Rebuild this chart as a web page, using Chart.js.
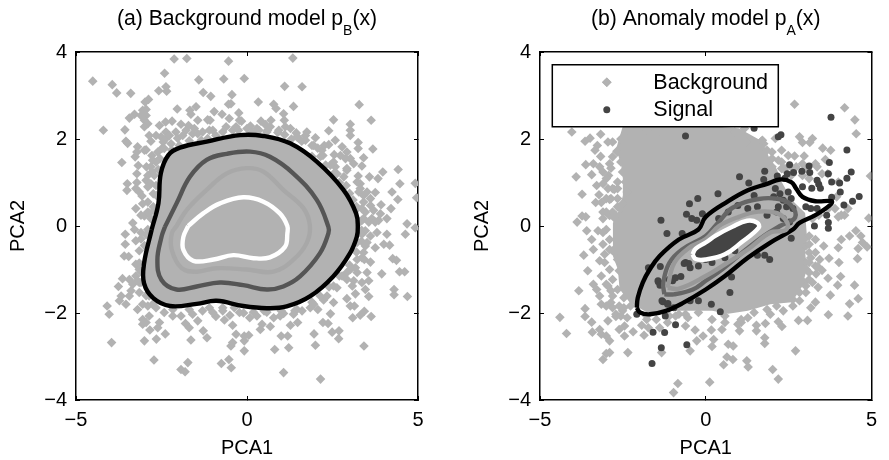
<!DOCTYPE html>
<html><head><meta charset="utf-8">
<style>html,body{margin:0;padding:0;background:#fff;width:889px;height:460px;overflow:hidden}canvas{position:absolute;top:0}</style>
<script src="https://cdn.jsdelivr.net/npm/chart.js@4"></script></head><body>
<canvas id="a" width="445" height="460" style="left:0"></canvas>
<canvas id="b" width="425" height="460" style="left:464px"></canvas>
<script>
const xTicks=[-5,0,5], yTicks=[-4,-2,0,2,4];
const titleA=["(a) Background model p","B","(x)"], titleB=["(b) Anomaly model p","A","(x)"];
const legendLabels=["Background","Signal"];
const xLabel="PCA1", yLabel="PCA2";

const leftBackground=[[-4.51,3.33],[-3.94,3.25],[-3.81,3.06],[-3.4,3.05],[-2.41,3.51],[-2.13,3.84],[-1.76,3.85],[-.54,3.79],[-1.41,3.36],[-.68,3.38],[-.08,3.39],[-2.58,3.11],[-2.37,3.2],[-2.35,3.1],[-1.28,3.07],[-1.06,2.98],[-.44,3.02],[-2.98,2.85],[-2.88,2.91],[-2.04,2.69],[-1.49,2.74],[-1.67,2.66],[-1.64,2.57],[-.96,2.63],[-.73,2.57],[-.54,2.8],[-.47,2.81],[-.24,2.6],[-3.29,2.57],[-3.44,2.48],[-3.05,2.66],[-2.95,2.68],[-3.1,2.54],[-2.95,2.54],[-3,2.43],[-2.9,2.35],[-3,2.28],[-4.2,2.2],[-3.57,2.21],[-2.38,2.39],[-2.19,2.41],[-1.93,2.34],[-1.44,2.43],[-1.71,2.31],[-1.15,2.44],[-1.08,2.43],[-.52,2.47],[-.22,2.43],[-.16,2.41],[-2.86,2.08],[-2.81,1.95],[-3.54,1.95],[-3.49,1.9],[-3.2,1.82],[-3,1.74],[-2.95,1.75],[-3.66,1.46],[-3.27,1.59],[-3.22,1.7],[-2.78,1.62],[-2.76,1.51],[-3.18,1.39],[-2.94,1.36],[-3.22,1.2],[-2.95,1.05],[-3.5,.97],[-3.22,1],[-3.25,.86],[-3.51,.82],[-3.07,.69],[-2.9,.55],[-2.74,.74],[-2.74,.44],[-3.1,.25],[-3,.23],[-3.34,.07],[-2.51,2.05],[-2.37,2.16],[-2.45,1.93],[-2.49,1.78],[-2.61,1.7],[-2.08,2.16],[-2.03,2.02],[-1.78,2.2],[-1.54,2.24],[-1.3,2.16],[-1,2.2],[-.71,2.16],[-.42,2.2],[-1.59,2.12],[-1.98,1.85],[-1.69,1.96],[-1.34,1.97],[-1.15,2.01],[-.91,2.08],[-2.37,2.01],[-2.22,1.89],[-2.66,1.47],[-2.71,1.16],[-2.81,.97],[-2.66,.93],[-2.81,1.36],
[-2.2,1.75],[-2.55,1.55],[-2.6,1.3],[-2.65,.7],[-2.85,.3],[-2.7,.1],[-3.1,-.3],[-.25,2.2],[.1,2.3],[.35,2.2],[.6,2.2],[.9,2.15],[1.1,2.1],[.15,2.15],[1.9,1.6],[2.3,1.4],[2.7,1],[3,.75],[3.2,.45],[3.3,.1],[3.35,-.1],[3.35,-.35],[3.2,-.6],[3,-.9],[2.7,-1.15],[2.4,-1.4],[1.9,-1.75],[1.4,-1.95],[1,-1.95],[.5,-1.95],[-.1,-2],[-.5,-2.05],[-2.95,-1.6],[-3.15,-1.3],[-3.15,-.85],[-3,-.45],[-2.95,-.2],[-2.7,.35],
[-2.78,1.24],[-2.9,1.16],[-3.15,.78],[-2.9,.9],[-3.05,.51],[-2.9,.32],[-2.81,.17],[-3.25,.4],[-2.56,2.31],[-2.66,2.08],[-2.42,1.78],[-2.27,2.08],[-1.88,2.08],[-1.44,2.12],[-1.1,2.2],[-.61,2.28],[-.32,2.28],[0,2.24],[.29,2.24],[.58,2.16],[.93,2.2],[1.27,2.24],[1.46,2.05],[1.71,1.97],[1.9,1.85],[2.19,1.74],[2.53,1.47],[2.73,1.62],[3.02,1.55],[2.92,1.32],[3.31,.97],[3.41,.7],[3.22,.4],[3.61,.63],[3.36,.13],[3.85,.13],[3.56,.09],[-3.15,-1],[-2.9,-1.07],[-3.25,-1.15],[-3.1,-1.3],[-2.86,-1.61],[-2.76,-1.8],[-2.17,-1.92],[-1.69,-1.92],[-1.1,-1.88],[-.71,-1.88],[-.37,-1.88],[-3.44,-1.23],[3.22,-.38],[3.31,-.15],[3.46,-.46],[3.22,-.77],[3.02,-1],[2.92,-1.23],[2.63,-1.42],[2.34,-1.61],[1.95,-1.8],[1.46,-1.92],[1.07,-2.01],[.58,-1.98],[.19,-1.98],[3.46,-.11],[3.36,-.73],[3.12,-1.26],
[1.34,3.86],[1.1,3.21],[1.61,3.2],[.33,2.85],[.78,2.8],[.85,2.7],[1.36,2.75],[3.28,2.79],[1.07,2.58],[1.09,2.43],[1.12,2.28],[.41,2.41],[.54,2.33],[.7,2.43],[.68,2.28],[2.53,2.44],[3.63,2.43],[3.02,2.34],[3.02,2.2],[3.02,2.08],[2.39,2.19],[1.75,2.16],[1.71,2.08],[1.44,2.14],[1.51,2.02],[2,2.03],[2.58,1.97],[2.39,1.87],[2.26,1.85],[2.07,1.79],[2.78,1.82],[3.25,1.92],[3.25,1.78],[3.68,1.77],[2.22,1.62],[2.55,1.64],[2.92,1.7],[2.88,1.55],[3.41,1.57],[3.12,1.43],[3.36,1.38],[4.42,1.3],[3.97,1.24],[2.92,1.28],[2.58,1.36],[2.83,1.13],[3.25,1.15],[3.22,1.01],[3.58,1.13],[3.83,1.09],[4.47,.97],[4.92,.98],[4.96,.65],[3.27,.78],[3.31,.86],[3.51,.78],[3.75,.77],[4.24,.78],[4.41,.61],[3.92,.49],[4.21,.4],[3.41,.55],[3.61,.47],[3.46,.32],[3.7,.36],[3.9,.28],[3.41,.17],[3.65,.17],[4.09,.17],[3.75,.09],[4.68,.05],[3.36,.4],[2.44,1.4],[2.63,1.2],[2.9,.93],[3.1,.6],[2.53,1.2],[2.15,1.6],[1.95,1.85],[1.6,1.95],[1.3,2],
[-3.56,-.19],[-3.56,-.42],[-3.59,-.69],[-3.46,-.7],[-3.29,-.08],[-3.1,-.15],[-3.25,-.34],[-3.15,-.57],[-3.25,-.88],[-2.9,-.08],[-3.64,-1.21],[-3.76,-1.39],[-3.34,-1.34],[-3.2,-1.26],[-3.39,-1.49],[-3.15,-1.53],[-3.68,-1.61],[-3.73,-1.72],[-3.54,-1.8],[-3.44,-1.61],[-4.09,-1.84],[-4.03,-2.03],[-3.96,-2.68],[-3.05,-1.8],[-3.2,-1.92],[-2.9,-1.84],[-2.66,-1.88],[-2.42,-1.99],[-2.17,-2.07],[-1.93,-2.07],[-1.59,-2.03],[-1.3,-1.95],[-2.86,-2.07],[-3.05,-2.15],[-2.95,-2.22],[-3.05,-2.26],[-2.56,-2.22],[-2.61,-2.34],[-2.84,-2.39],[-2.39,-2.48],[-3,-2.64],[-2.65,-2.6],[-1.64,-2.62],[-1.17,-2.57],[-1.28,-2.41],[-1.69,-2.34],[-1.8,-2.24],[-1.44,-2.18],[-.91,-2.08],[-.66,-2.16],[-.42,-2.28],[-.32,-2.49],[-.08,-2.53],[-.42,-2.68],[-.47,-2.76],[-.08,-2.64],[-.08,-2.87],[-2.72,-3.08],[-1.73,-3.14],[-1.93,-3.3],[-1.81,-3.35],[-.75,-3.16],[-.53,-3.07],[-.46,-3.26],[-.22,-1.99],[-.71,-1.95],[-1,-1.99],[-2.9,-.84],[-2.8,-.5],[-2.85,-1.15],[-3.1,-1.05],
[1.07,-3.37],[2.15,-3.52],[3.42,-2.76],[2,-2.74],[.81,-2.84],[1.22,-2.8],[1,-2.53],[1.19,-2.53],[1.96,-2.48],[2.49,-2.44],[2.69,-2.41],[2.68,-2.59],[.05,-2.51],[.68,-2.31],[.39,-2.38],[.44,-2.26],[1.27,-2.28],[1.48,-2.22],[2.22,-2.22],[2.37,-2.24],[2.44,-2.02],[3.09,-2.11],[3.31,-2.05],[3.43,-1.96],[3.63,-2.08],[2.92,-1.67],[3.02,-1.84],[3.14,-1.84],[2.53,-1.76],[2.24,-1.7],[2.07,-1.92],[1.85,-1.88],[1.61,-1.95],[1.36,-2.03],[.97,-2.07],[.78,-2.11],[.29,-2.07],[.08,-2.11],[3.17,-1.56],[3.08,-1.38],[3.36,-1.3],[3.56,-1.62],[3.46,-1.46],[3.56,-1.26],[3.51,-1.07],[3.17,-.96],[3.22,-1.07],[3.94,-1.1],[4.46,-1.05],[4.61,-1.05],[4.3,-1.46],[4.3,-1.58],[4.69,-1.62],[4.26,-.75],[4.37,-.79],[3.61,-.83],[3.43,-.77],[3.41,-.61],[3.75,-.5],[4,-.42],[4.17,-.44],[4.63,-.19],[4.92,-.04],[4.09,-.19],[3.8,-.15],[3.51,-.38],[3.61,-.23],[3.36,-.19],[2.92,-1.07],[2.78,-1.15],[2.53,-1.38],[2.14,-1.61]];

const leftBlack=[[-2.79,-.09],[-2.59,.52],[-2.52,1.21],[-2.3,1.63],[-1.96,1.8],[-1.18,1.94],[-.2,2.09],[.48,2.07],[1.26,1.9],[2.04,1.48],[2.82,.83],[3.19,.29],[3.24,-.02],[3.21,-.25],[3.01,-.63],[2.52,-1.16],[1.84,-1.62],[1.16,-1.85],[.58,-1.89],[-.11,-1.84],[-.89,-1.72],[-1.47,-1.79],[-2.25,-1.84],[-2.74,-1.66],[-3.01,-1.32],[-3.01,-.86],[-2.79,-.09]];
const leftDark=[[-2.4,-.02],[-2.06,.52],[-1.67,1.13],[-1.18,1.52],[-.59,1.66],[.09,1.71],[.67,1.59],[1.35,1.21],[2.04,.6],[2.38,-.02],[2.38,-.17],[2.13,-.63],[1.55,-1.16],[1.06,-1.39],[.58,-1.46],[-.11,-1.36],[-.79,-1.3],[-1.47,-1.39],[-2.06,-1.46],[-2.5,-1.24],[-2.62,-.78],[-2.5,-.25],[-2.4,-.02]];
const leftLight=[[-2.06,0],[-1.76,.37],[-1.18,.83],[-.59,1.21],[0,1.33],[.48,1.25],[1.06,.83],[1.65,.41],[1.84,0],[1.74,-.4],[1.35,-.78],[.77,-1.05],[-.01,-1],[-.89,-.97],[-1.47,-1.05],[-1.91,-.97],[-2.2,-.55],[-2.2,-.17],[-2.06,0]];
const leftWhite=[[-1.72,0],[-1.28,.29],[-.79,.52],[-.11,.66],[.48,.56],[.96,.29],[1.18,0],[1.18,-.17],[1.11,-.48],[.67,-.72],[.19,-.74],[-.4,-.67],[-.98,-.77],[-1.57,-.8],[-1.86,-.55],[-1.86,-.25],[-1.72,0]];

const rightBackground=[[-4.04,2.16],[-3.64,1.95],[-3.49,2.02],[-3.17,2.11],[-2.95,1.93],[-3.27,1.85],[-3.34,1.74],[-2.68,1.72],[-3.17,1.6],[-3.62,1.41],[-3.39,1.43],[-3.2,1.36],[-3.1,1.24],[-2.86,1.33],[-3.44,1.18],[-2.93,1.16],[-3.91,1.13],[-3.29,.93],[-3.1,.97],[-3,1.09],[-2.76,.84],[-3.73,.73],[-3.22,.72],[-3.32,.54],[-3.15,.54],[-2.9,.61],[-2.66,.44],[-2.56,.4],[-3.73,.23],[-3.62,.21],[-3.88,.09],[-3,.32],[-3.1,.17],[-2.76,.19],[-3.59,-.11],[-3,-.08],[-3.25,-.11],[-3.44,-.31],[-3.1,-.42],[-3.39,-.54],[-3.05,-.65],[-3.68,-.67],[-3.2,-.8],[-3.56,-1.03],[-3.83,-1.49],[-3.39,-1.34],[-3.29,-1.46],[-2.95,-1.38],[-3.2,-1.61],[-3,-1.84],[-2.81,-1.61],[-3.64,-1.9],[-3.64,-2.08],[-3.44,-2.21],[-4.4,-2.1],[-4.2,-2.47],[-3.42,-2.44],[-3.2,-2.38],[-3.15,-2.49],[-3,-2.53],[-2.9,-2.64],[-2.95,-2.18],[-2.71,-2.08],[-2.37,-2.11],[-2.61,-2.38],[-2.45,-2.3],[-2.45,-2.53],[-2.19,-2.43],[-1.86,-2.51],[-1.93,-2.28],[-1.78,-2.15],[-1.73,-2.34],[-1.39,-2.34],[-1.15,-2.22],[-.91,-2.07],[-.54,-2.11],[-.61,-2.3],[-.32,-2.39],[-.08,-2.53],[-.81,-2.03],[-.27,-2.64],[-.47,-2.87],[-2.9,-2.91],[-3,-2.93],[-3.1,-3.07],[-2.35,-2.91],[-1.33,-2.91],[-.84,-3.62],[-.97,-3.83],[-2.86,-1.76],[-2.61,-1.84],[-2.51,-1.95],[-2.71,-2.03],
[-2.37,2.2],[-2.12,2.16],[-1.78,2.2],[-1.39,2.18],[-1.05,2.16],[-.71,2.2],[-.22,2.16],[.19,2.16],[.49,2.16],[.88,2.16],[1.17,2.24],[1.22,1.93],[1.68,1.95],[1.85,1.74],[2,1.55],[-2.66,1.7],[-2.51,1.24],[-2.42,1.01],[-2.37,.78],[-2.66,.86],[-2.51,.51],[-2.71,.24],[-2.9,.24],[-2.9,-.31],[-2.81,-.57],[-2.66,-.77],[-2.61,-1.03],[-2.81,-1.23],[-2.66,-1.46],[-2.47,-1.65],[-2.27,-1.84],[-2.47,-1.88],[.19,-2.15],[.58,-2.22],[1.07,-2.22],[1.46,-1.99],[1.85,-1.92],[2.14,-1.84],[2.63,-1.84],[2.83,-1.72],[3.02,-1.53],[2.97,-1.3],[3.12,-1.07],[3.02,-.84],[3.12,-.61],[2.92,-.46],[2.34,1.32],[2.73,1.36],[3.02,1.32],[3.51,1.2],[3.36,1.36],[3.9,.4],[4.09,.25],[3.41,.25],[3.22,.17],[-1.78,-2.07],[-1.49,-2.15],[-1.1,-2.07],[-.61,-2.03],[-.22,-1.99],
[-2.81,1.93],[-2.56,2],[-2.81,1.59],[-2.56,1.47],[-2.9,1.43],[-2.66,1.01],[-2.81,.86],[-2.95,.86],[-2.86,.63],[-2.66,.63],[-3,.63],[-2.81,.32],[-3.1,.32],[-3.1,-.15],[-2.9,-.54],[-3.05,-.84],[-2.9,-1],[-3.15,-1.15],[-3,-1.34],[-2.86,-1.49],[-3.15,-1.8],[-2.81,-1.88],[-2.56,-2.07],[3.12,-.23],[3.31,-.61],[3.12,-.84],[3.31,-.92],[3.12,-1.23],[3.02,-1.38],[2.83,-1.53],[2.63,-1.69],[3.02,-.46],[3.17,-.73],[2.34,-1.95],[1.95,-2.03],[1.27,-2.11],[.58,-2.07],[2.92,-.23],[1.75,1.89],[2,1.7],[2.19,1.51],[2.39,1.32],[2.58,1.16],[2.29,1.47],[2,1.36],[2.1,2.01],[2.92,1.16],[3.12,1.09],
[.12,-3.59],[2.19,-3.52],[2.02,-3.3],[2.71,-2.87],[1.24,-3.1],[1.28,-3.24],[.64,-3.01],[.82,-3.07],[.54,-3.19],[.68,-2.72],[.83,-2.76],[.19,-2.77],[.24,-2.61],[1.78,-2.57],[1.78,-2.7],[1.53,-2.28],[1.53,-2.41],[1.8,-2.24],[2.19,-2.2],[2.3,-2.31],[2.8,-2.17],[3.07,-2.17],[3.7,-2.04],[4.29,-2.07],[4.34,-1.79],[4.6,-1.67],[4.49,-1.36],[3.76,-1.59],[3.31,-1.75],[3.17,-1.88],[3.39,-1.41],[3.22,-1.3],[3.98,-1.36],[3.69,-1.2],[4.07,-1.16],[3.33,-1.1],[3.51,-1.02],[3.04,-1],[3.38,-.93],[3.44,-.77],[3.72,-.74],[4.02,-.84],[4.58,-.75],[3.56,-.46],[4,-.5],[4.09,-.31],[4.34,-.23],[4.6,-.52],[4.87,-.48],[4.68,-.23],[4.53,-.11],[4.73,-.38],[3.12,-.42],[3.31,-.31],[2.97,-.31],[.97,-2.26],[1.07,-2.15],[1.02,-2.41],[.17,-2.39],[.49,-2.38],
[2.68,2.8],[4.19,2.72],[4.5,2.44],[4.54,2.12],[2.83,2.05],[2.92,1.92],[3.22,2.01],[3.14,1.92],[3.53,1.79],[3.77,1.74],[2.29,1.74],[1.71,1.97],[2.49,1.62],[2.68,1.61],[2.97,1.61],[3.61,1.53],[3.31,1.43],[2.92,1.43],[2.29,1.32],[3.68,1.2],[4.97,1.15],[2.63,1.32],[3.95,.67],[4.29,.4],[4.19,.25],[4,.21],[3.7,.4],[4.92,.18],[4,1.01]];
const rightDense=[[-2.5,2.3],[-1,2.3],[0,2.3],[1,2.25],[1.7,1.95],[1.9,1.6],[2.15,1.3],[2.3,1],[2.6,.6],[3,.3],[3.05,-.2],[3,-.6],[3.05,-1],[2.9,-1.4],[2.6,-1.75],[1.95,-1.8],[1.27,-1.95],[.68,-2.02],[.19,-1.95],[-.91,-1.95],[-1.78,-1.98],[-2.3,-1.75],[-2.6,-1.45],[-2.65,-1],[-2.8,-.69],[-2.8,-.15],[-2.8,.07],[-2.6,.4],[-2.5,.7],[-2.5,1.09],[-2.55,1.39],[-2.7,1.78],[-2.5,2.3]];
const rightSignal=[[3.78,2.5],[4.26,1.75],[4.39,1.24],[4.26,1.1],[3.73,1.46],[3.7,1.2],[3.8,1.01],[4.04,.99],[4.06,.78],[4.63,.68],[4.43,.57],[4.17,.48],[3.8,.66],[2.19,2.05],[2.27,2.1],[1.46,2.25],[2.53,1.41],[1.02,1.13],[1.78,1.26],[1.3,.99],[.37,.74],[2.65,1.23],[2.46,1.2],[2.9,1.26],[3.12,1.38],[3.14,1.23],[1.75,1.07],[2.16,1.15],[2.39,1.1],[3.36,1.05],[3.41,.96],[3.46,.87],[3.2,.87],[2.92,.9],[2.1,.86],[1.46,.7],[2.05,.67],[2.24,.74],[2.49,.78],[2.58,.63],[2.34,.59],[2.44,.44],[2.19,.44],[2.63,.4],[3.02,.44],[3.17,.4],[3.36,.4],[3.65,.25],[3.7,.08],[-1.35,.13],[-.49,.51],[-.24,.63],[-.58,.27],[-.42,.17],[-.27,.13],[-.1,.28],[-.61,2.07],[-1.17,-.17],[-.71,-.17],[-1.73,-.96],[-1.37,-.93],[-1.44,-1.26],[-1.34,-1.34],[-1.1,-1.23],[-.91,-1.19],[-1,-1.26],[-.61,-.84],[-.47,-.96],[-.22,-.92],[-1.32,-1.72],[-1.15,-1.8],[-.96,-1.88],[-2.08,-2.03],[-1.22,-2.07],[-.91,-2.27],[-1.59,-2.44],[-1.24,-2.45],[-1.34,-2.8],[-.57,-2.73],[-1.62,-3.16],[-.47,-1.72],[-.22,-1.72],[2.58,-.28],[3.28,0],[3.7,-.05],[1.56,-.67],[1.78,-.67],[1.93,-.77],[.78,-1.17],[.73,-1.53],[.17,-1.8],[.44,-1.97],[-.51,-.86],[-.65,-.86],[-.95,-1.2],[-.75,-1.16],[-1.04,-1.24],[-1.43,-1.28],[-1.38,-1.36],[-1.29,-1.74],[-1.14,-1.78],[.68,.32],[.97,.47],[1.27,.4],[1.56,.44],[1.85,.25],[2.14,.32],[2.34,.17],[2.53,.09],[.39,.17],[0,-.77],[.19,-.84],[.58,-.73],[.88,-.57]];
const rightBlack=[[-2.08,-1.88],[-1.98,-1.99],[-1.69,-2.03],[-1.2,-1.95],[-.71,-1.78],[0,-1.46],[.58,-1.15],[1.27,-.73],[1.95,-.38],[2.63,-.08],[2.83,.07],[3.31,.25],[3.75,.48],[3.8,.57],[3.31,.57],[2.92,.67],[2.73,.86],[2.58,1.01],[2.24,1.07],[1.85,.97],[1.27,.82],[.68,.57],[0,.21],[-.22,-.08],[-.81,-.31],[-1.39,-.69],[-1.69,-1],[-1.9,-1.3],[-2.05,-1.65],[-2.08,-1.88]];
const rightDark=[[-1.25,-1.57],[-.96,-1.57],[-.39,-1.46],[0,-1.26],[.49,-1],[1.17,-.57],[1.75,-.23],[2.24,0],[2.7,.2],[2.55,.5],[2.2,.62],[1.6,.62],[.81,.42],[.4,.1],[0,-.23],[-.71,-.54],[-1.1,-.85],[-1.28,-1.3],[-1.25,-1.57]];
const rightLight=[[-1.15,-1.42],[-.8,-1.44],[0,-1.15],[.58,-.88],[1.27,-.54],[1.95,-.15],[2.4,-.1],[2.47,.06],[2.17,.29],[1.59,.33],[1,.21],[.4,0],[0,-.3],[-.5,-.5],[-.95,-.85],[-1.15,-1.42]];
const rightWhite=[[-.4,-.65],[-.3,-.76],[0,-.77],[.58,-.65],[1.07,-.38],[1.6,-.04],[1.55,.08],[1.25,.12],[.8,-.02],[.3,-.22],[0,-.38],[-.3,-.52],[-.4,-.65]];

const FONT="'Liberation Sans',Arial,Helvetica,sans-serif";
const GRAY="#b2b2b2", DOT="#444444";
const xy=a=>a.map(p=>({x:p[0],y:p[1]}));
const contour=(d,c,fillColor,ord)=>({type:'scatter',data:xy(d),showLine:true,tension:.4,borderColor:c,borderWidth:4.4,pointRadius:0,
  fill:fillColor?'shape':false,backgroundColor:fillColor||'transparent',order:ord});
const cloud=(d,style,r,c,ord)=>({type:'scatter',data:xy(d),pointStyle:style,pointRadius:r,pointBorderWidth:0,pointBackgroundColor:c,backgroundColor:c,borderWidth:0,order:ord});

function axes(rightW){
  const t=v=>String(v).replace('-','\u2212');
  const common=()=>({border:{display:true,color:'#000',width:1.5},grid:{drawOnChartArea:false,drawTicks:true,tickLength:-4,tickColor:'#000',tickWidth:1}});
  return {
   x:{type:'linear',position:'bottom',min:-5,max:5,afterFit:s=>{s.height=60},afterBuildTicks:s=>{s.ticks=xTicks.map(v=>({value:v}))},...common(),
      ticks:{padding:12,maxRotation:0,font:{family:FONT,size:20},color:'#000',callback:t},
      title:{display:true,text:xLabel,color:'#000',font:{family:FONT,size:20},padding:{top:0,bottom:0}}},
   y:{type:'linear',position:'left',min:-4,max:4,afterFit:s=>{s.width=76},afterBuildTicks:s=>{s.ticks=yTicks.map(v=>({value:v}))},...common(),
      ticks:{padding:13,font:{family:FONT,size:20},color:'#000',callback:t},
      title:{display:true,text:yLabel,color:'#000',font:{family:FONT,size:20},padding:{top:6,bottom:0}}},
   x2:{type:'linear',axis:'x',position:'top',min:-5,max:5,afterFit:s=>{s.height=52},afterBuildTicks:s=>{s.ticks=xTicks.map(v=>({value:v}))},...common(),ticks:{display:false}},
   y2:{type:'linear',axis:'y',position:'right',min:-4,max:4,afterFit:s=>{s.width=rightW},afterBuildTicks:s=>{s.ticks=yTicks.map(v=>({value:v}))},...common(),ticks:{display:false}}
  };
}
const titlePlugin=parts=>({id:'subTitle',afterDraw(c){
  const g=c.ctx,a=c.chartArea,cx=(a.left+a.right)/2;
  g.save();g.fillStyle='#000';g.textBaseline='alphabetic';g.textAlign='left';
  g.font='21.2px '+FONT;const w0=g.measureText(parts[0]).width,w2=g.measureText(parts[2]).width;
  g.font='14px '+FONT;const w1=g.measureText(parts[1]).width;
  let x=cx-(w0+w1+w2)/2;
  g.font='21.2px '+FONT;g.fillText(parts[0],x,25);x+=w0;
  g.font='14px '+FONT;g.fillText(parts[1],x,35);x+=w1;
  g.font='21.2px '+FONT;g.fillText(parts[2],x,25);g.restore();
}});
const legendPlugin={id:'insetLegend',afterDraw(c){
  const g=c.ctx,a=c.chartArea,L=a.left+12.3,T=a.top+12.7;
  g.save();g.fillStyle='#fff';g.strokeStyle='#000';g.lineWidth=1.5;g.beginPath();g.rect(L,T,226,62);g.fill();g.stroke();
  g.fillStyle=GRAY;g.beginPath();Chart.helpers.drawPoint(g,{pointStyle:'rectRot',radius:4.8,borderWidth:0},L+54.5,T+17.5);g.fill();
  g.fillStyle=DOT;g.beginPath();g.arc(L+54.5,T+45,3.5,0,Math.PI*2);g.fill();
  g.fillStyle='#000';g.font='21.5px '+FONT;g.textBaseline='middle';g.textAlign='left';
  g.fillText(legendLabels[0],L+101,T+18);g.fillText(legendLabels[1],L+101,T+45.5);g.restore();
}};
const base=rightW=>({responsive:false,animation:false,events:[],layout:{padding:0},plugins:{legend:{display:false},title:{display:false},tooltip:{enabled:false}},scales:axes(rightW)});

new Chart(document.getElementById('a'),{type:'scatter',data:{datasets:[
  contour(leftWhite,'#ffffff',null,0),
  contour(leftLight,'#a8a8a8',null,1),
  contour(leftDark,'#555555',null,2),
  contour(leftBlack,'#000000',GRAY,3),
  cloud(leftBackground,'rectRot',4.8,GRAY,4)
]},options:base(27),plugins:[titlePlugin(titleA)]});

new Chart(document.getElementById('b'),{type:'scatter',data:{datasets:[
  contour(rightWhite,'#ffffff',DOT,0),
  contour(rightLight,'#999999',null,1),
  contour(rightDark,'#666666',null,2),
  contour(rightBlack,'#000000',null,3),
  cloud(rightSignal,'circle',3.5,DOT,4),
  cloud(rightBackground,'rectRot',4.8,GRAY,5),
  {type:'scatter',data:xy(rightDense),showLine:true,tension:0,borderWidth:0,borderColor:GRAY,pointRadius:0,fill:'shape',backgroundColor:GRAY,order:6}
]},options:base(7),plugins:[titlePlugin(titleB),legendPlugin]});
</script></body></html>
